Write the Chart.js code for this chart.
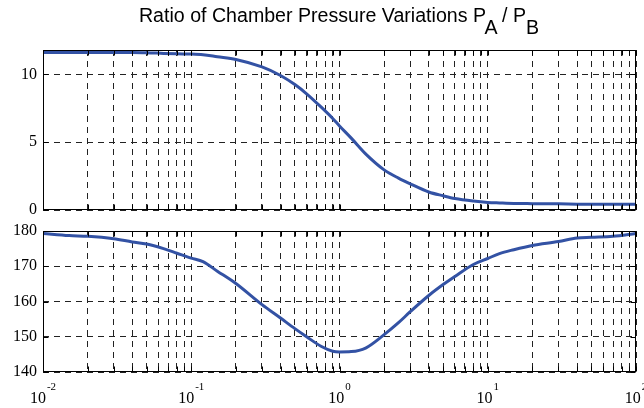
<!DOCTYPE html>
<html>
<head>
<meta charset="utf-8">
<script src="https://cdn.jsdelivr.net/npm/chart.js@4"></script>
<style>
  body { margin: 0; background: #fff; }
  #wrap { position: relative; width: 644px; height: 408px; overflow: hidden; background: #fff; }
  #title {
    position: absolute; left: 0; top: 5px; width: 678px; text-align: center;
    font: 19.6px "Liberation Sans", Arial, sans-serif; line-height: 20px;
    color: #000; white-space: nowrap; z-index: 2;
  }
  #title sub { vertical-align: baseline; position: relative; top: 11.6px; font-size: 1em; }
  canvas { position: absolute; left: 0; }
  #topChart { top: 0; }
  #botChart { top: 220px; }
</style>
</head>
<body>
<div id="wrap">
  <div id="title">Ratio of Chamber Pressure Variations P<sub>A</sub> / P<sub>B</sub></div>
  <canvas id="topChart" width="644" height="220"></canvas>
  <canvas id="botChart" width="644" height="188"></canvas>
</div>
<script>
// Data
const freq = [0.01, 0.015, 0.02, 0.03, 0.04, 0.05, 0.065, 0.08, 0.1, 0.12, 0.15, 0.2, 0.3, 0.4, 0.5, 0.6, 0.75, 0.9,
  1, 1.2, 1.5, 2, 2.5, 3, 4, 5, 6, 8, 10, 12, 15, 20, 30, 40, 50, 70, 100];
const ratio = [11.62, 11.62, 11.62, 11.62, 11.62, 11.6, 11.55, 11.52, 11.5, 11.45, 11.3, 11.1, 10.55, 9.92, 9.25, 8.57, 7.6, 6.75,
  6.2, 5.3, 4.14, 2.96, 2.35, 1.93, 1.33, 1.05, 0.85, 0.66, 0.56, 0.52, 0.48, 0.47, 0.46, 0.43, 0.42, 0.42, 0.42];
const phase = [179.3, 178.7, 178.5, 177.8, 176.9, 176.3, 175.0, 173.7, 172.3, 171.3, 168.6, 165.1, 159.1, 155.3, 152.3, 150.0, 147.3, 145.9,
  145.7, 145.8, 146.8, 150.6, 154.0, 157.1, 161.7, 164.8, 167.1, 170.5, 172.2, 173.6, 174.7, 175.9, 177.0, 178.0, 178.2, 178.5, 179.3];

// Axis ticks
const xDecades = [0.01, 0.1, 1, 10, 100];
const xExponents = ["-2", "-1", "0", "1", "2"];
const ratioTicks = [0, 5, 10];
const phaseTicks = [140, 150, 160, 170, 180];

// minor grid: 1..9 in every decade
const xGrid = [];
xDecades.forEach((d, i) => {
  if (i === xDecades.length - 1) { xGrid.push(d); return; }
  for (let m = 1; m <= 9; m++) xGrid.push(+(d * m).toPrecision(3));
});

const lineColor = "#3352a4";
const gridColor = "#222";
const serif = "'Liberation Serif', 'Times New Roman', serif";

// Frame + inward tick marks like the original
const framePlugin = {
  id: "frame",
  afterDraw(chart) {
    const { ctx, chartArea: a, scales } = chart;
    const L = Math.round(a.left) + 0.5, R = Math.round(a.right) - 0.5;
    const T = Math.round(a.top) + 0.5, B = Math.round(a.bottom) - 0.5;
    ctx.save();
    ctx.strokeStyle = "#000";
    ctx.lineWidth = 1;
    ctx.beginPath();
    scales.x.ticks.forEach(t => {
      const px = Math.round(scales.x.getPixelForValue(t.value)) + 0.5;
      ctx.moveTo(px, T); ctx.lineTo(px, T + 5);
      ctx.moveTo(px, B); ctx.lineTo(px, B - 5);
    });
    scales.y.ticks.forEach(t => {
      const py = Math.round(scales.y.getPixelForValue(t.value)) + 0.5;
      ctx.moveTo(L, py); ctx.lineTo(L + 5, py);
      ctx.moveTo(R, py); ctx.lineTo(R - 5, py);
    });
    ctx.stroke();
    ctx.strokeRect(L, T, R - L, B - T);
    ctx.restore();
  }
};

// 10^n labels under the lower plot
const powerLabels = {
  id: "powerLabels",
  afterDraw(chart, args, opts) {
    if (!opts.show) return;
    const { ctx, scales } = chart;
    ctx.save();
    ctx.fillStyle = "#000";
    ctx.textBaseline = "alphabetic";
    xDecades.forEach((d, i) => {
      const px = scales.x.getPixelForValue(d);
      ctx.font = "16px " + serif;
      const wb = ctx.measureText("10").width;
      ctx.font = "11px " + serif;
      const we = ctx.measureText(xExponents[i]).width;
      const x0 = px - (wb + 1 + we) / 2;
      ctx.font = "16px " + serif;
      ctx.fillText("10", x0, opts.baseY);
      ctx.font = "11px " + serif;
      ctx.fillText(xExponents[i], x0 + wb + 1, opts.baseY - 13);
    });
    ctx.restore();
  }
};

function makeChart(id, values, yMin, yMax, yTicks, padTop, padBottom, xHeight, showLabels) {
  return new Chart(document.getElementById(id), {
    type: "line",
    data: {
      labels: freq,
      datasets: [{
        data: freq.map((f, i) => ({ x: f, y: values[i] })),
        borderColor: lineColor,
        borderWidth: 3,
        pointRadius: 0,
        cubicInterpolationMode: "monotone",
        fill: false
      }]
    },
    options: {
      responsive: false,
      animation: false,
      devicePixelRatio: 1,
      layout: { padding: { top: padTop, right: 8, bottom: padBottom, left: 0 } },
      plugins: {
        legend: { display: false },
        tooltip: { enabled: false },
        powerLabels: { show: showLabels, baseY: 183 }
      },
      scales: {
        x: {
          type: "logarithmic",
          min: 0.01,
          max: 100,
          afterBuildTicks: s => { s.ticks = xGrid.map(v => ({ value: v })); },
          afterFit: s => { s.height = xHeight; },
          ticks: { display: false },
          grid: { color: gridColor, lineWidth: 1, drawTicks: false },
          border: { display: false, dash: [6, 5] }
        },
        y: {
          min: yMin,
          max: yMax,
          afterBuildTicks: s => { s.ticks = yTicks.map(v => ({ value: v })); },
          // fixed axis width, no extra room for the end labels
          afterFit: s => { s.width = 43; s.paddingTop = 0; s.paddingBottom = 0; },
          ticks: { color: "#000", padding: 6, font: { family: serif, size: 16 } },
          grid: { color: gridColor, lineWidth: 1, drawTicks: false },
          border: { display: false, dash: [6, 5] }
        }
      }
    },
    plugins: [framePlugin, powerLabels]
  });
}

makeChart("topChart", ratio, 0, 11.8, ratioTicks, 50, 10, 0, false);
makeChart("botChart", phase, 140, 180, phaseTicks, 11, 0, 36, true);
</script>
</body>
</html>
